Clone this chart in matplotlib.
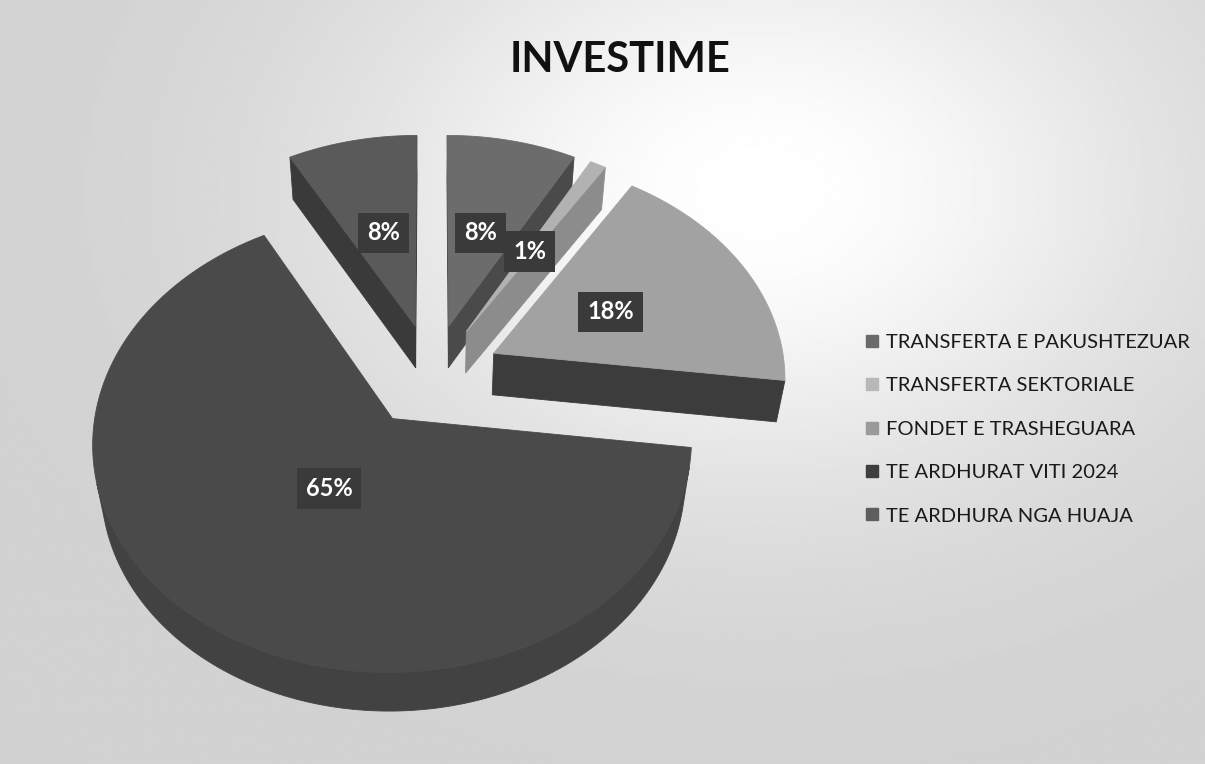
import numpy as np
import matplotlib
matplotlib.use("Agg")
import matplotlib.pyplot as plt
from matplotlib.patches import Polygon
from matplotlib.lines import Line2D

# --- data -------------------------------------------------------------
categories = [
    "TRANSFERTA E PAKUSHTEZUAR",
    "TRANSFERTA SEKTORIALE",
    "FONDET E TRASHEGUARA",
    "TE ARDHURAT VITI 2024",
    "TE ARDHURA NGA HUAJA",
]
shares = [8, 1, 18, 65, 8]
title = "INVESTIME"

# --- style ------------------------------------------------------------
top_colors = ["#6c6c6c", "#b2b2b2", "#a2a2a2", "#4a4a4a", "#5a5a5a"]
side_colors = ["#4a4a4a", "#8c8c8c", "#3c3c3c", "#424242", "#3a3a3a"]
legend_colors = ["#6a6a6a", "#b8b8b8", "#9a9a9a", "#3e3e3e", "#5e5e5e"]
explode = 0.236          # radial pull-out of every slice (pie radius = 1)
label_radius = [0.48, 0.46, 0.46, 0.36, 0.48]

W, H = 1205, 764
scale = 292.0            # pixels per unit radius
center_px = (432.0, 375.0)
sin_e, cos_e = 0.75, np.sqrt(1 - 0.75 ** 2)   # camera elevation
cam_dist = 6.6
thickness = 0.22

plt.rcParams["font.family"] = ["Lato", "DejaVu Sans"]

fig = plt.figure(figsize=(W / 100, H / 100), dpi=100)
ax = fig.add_axes([0, 0, 1, 1])
x0 = -center_px[0] / scale
x1 = (W - center_px[0]) / scale
y0 = -(H - center_px[1]) / scale
y1 = center_px[1] / scale
ax.set_xlim(x0, x1)
ax.set_ylim(y0, y1)
ax.axis("off")

# soft page background: gray with a bright glow behind the title
gx, gy = np.meshgrid(np.linspace(0, W, 400), np.linspace(0, H, 260))
glow = np.exp(-(((gx - 760) / 520) ** 2 + ((gy - 190) / 380) ** 2) * 1.6)
bg = 0.82 + 0.18 * glow
ax.imshow(bg, cmap="gray", vmin=0, vmax=1, extent=(x0, x1, y0, y1),
          aspect="auto", zorder=0, interpolation="bilinear")

camera = np.array([0.0, -cam_dist * cos_e, cam_dist * sin_e])


def project(u, v, z):
    u, v, z = np.asarray(u, float), np.asarray(v, float), np.asarray(z, float)
    depth = 1 + (v * cos_e - z * sin_e) / cam_dist
    return u / depth, (v * sin_e + z * cos_e) / depth


def poly(u, v, z, color, zorder):
    px, py = project(u, v, z)
    ax.add_patch(Polygon(np.column_stack([px, py]), closed=True,
                         facecolor=color, edgecolor=color, linewidth=0.6,
                         zorder=zorder))


total = float(sum(shares))
bounds = np.concatenate([[0], np.cumsum(shares)]) / total * 2 * np.pi
slices = []
for i in range(len(shares)):
    t1, t2 = bounds[i], bounds[i + 1]
    mid = 0.5 * (t1 + t2)
    ou, ov = explode * np.sin(mid), explode * np.cos(mid)
    slices.append((i, t1, t2, mid, ou, ov))

# paint from the far side of the pie to the near side
order = sorted(slices, key=lambda s: -s[5])
z = 1
for i, t1, t2, mid, ou, ov in order:
    th = np.linspace(t1, t2, 240)
    ru, rv = ou + np.sin(th), ov + np.cos(th)

    # radial cut faces
    for t, n in ((t1, (-np.cos(t1), np.sin(t1))), (t2, (np.cos(t2), -np.sin(t2)))):
        vis = (camera[0] - ou) * n[0] + (camera[1] - ov) * n[1]
        if vis > 0:
            eu, ev = ou + np.sin(t), ov + np.cos(t)
            poly([ou, eu, eu, ou], [ov, ev, ev, ov],
                 [0, 0, -thickness, -thickness], side_colors[i], z)
            z += 1

    # outer rim wall, only the part facing the camera
    facing = (camera[0] - ru) * np.sin(th) + (camera[1] - rv) * np.cos(th) > 0
    idx = np.flatnonzero(facing)
    if idx.size:
        runs = np.split(idx, np.flatnonzero(np.diff(idx) > 1) + 1)
        for r in runs:
            if r.size < 2:
                continue
            uu = np.concatenate([ru[r], ru[r][::-1]])
            vv = np.concatenate([rv[r], rv[r][::-1]])
            zz = np.concatenate([np.zeros(r.size), -thickness * np.ones(r.size)])
            poly(uu, vv, zz, side_colors[i], z)
            z += 1

    # top face
    poly(np.concatenate([[ou], ru]), np.concatenate([[ov], rv]),
         np.zeros(ru.size + 1), top_colors[i], z)
    z += 1

# value labels on the top faces
for i, t1, t2, mid, ou, ov in slices:
    r = label_radius[i]
    lx, ly = project(ou + r * np.sin(mid), ov + r * np.cos(mid), 0.0)
    pct = round(shares[i] / total * 100)
    ax.text(lx, ly, f"{pct}%", color="white", fontsize=17, fontweight="bold",
            ha="center", va="center", zorder=200,
            bbox=dict(boxstyle="square,pad=0.38", facecolor="#3a3a3a",
                      edgecolor="none"))

fig.text(620 / W, 1 - 60 / H, title, fontsize=30, fontweight="bold",
         color="#111111", ha="center", va="center")

handles = [Line2D([0], [0], marker="s", linestyle="none", markersize=9,
                  markerfacecolor=c, markeredgecolor=c) for c in legend_colors]
fig.legend(handles, categories, loc="center left",
           bbox_to_anchor=(865 / W, 1 - 429 / H), frameon=False,
           fontsize=14.5, labelspacing=1.31, handlelength=0.7,
           handletextpad=0.35, borderpad=0, borderaxespad=0,
           labelcolor="#1a1a1a")

fig.savefig("out.png", dpi=100)
